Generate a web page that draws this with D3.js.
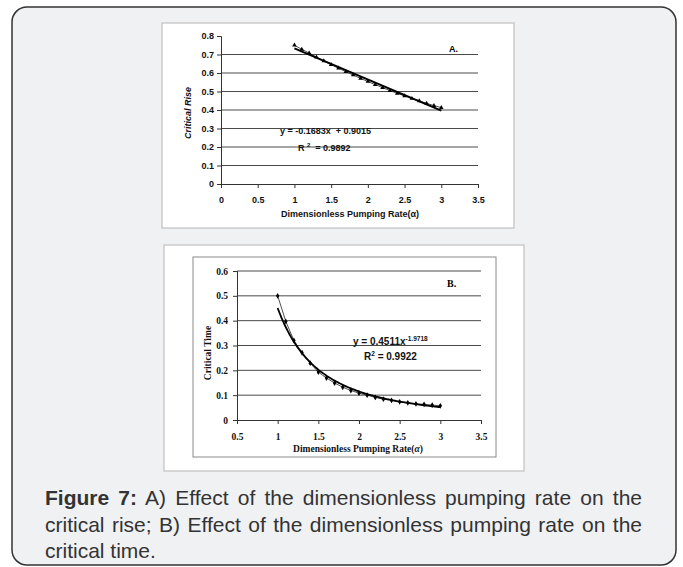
<!DOCTYPE html>
<html>
<head>
<meta charset="utf-8">
<script src="https://cdn.jsdelivr.net/npm/d3@7"></script>
<style>
  body { margin: 0; background: #fff; }
  #wrap { position: relative; width: 683px; height: 567px; }
  #caption {
    position: absolute; left: 45px; top: 485px; width: 597px;
    font-family: "Liberation Sans", Arial, sans-serif; font-size: 21px;
    line-height: 26.5px; color: #333; text-align: justify;
  }
</style>
</head>
<body>
<div id="wrap">
  <svg id="chart" width="683" height="567"></svg>
  <div id="caption"><b>Figure 7:</b> A) Effect of the dimensionless pumping rate on the critical rise; B) Effect of the dimensionless pumping rate on the critical time.</div>
</div>
<script>
// data
var alpha = [1.0, 1.1, 1.2, 1.3, 1.4, 1.5, 1.6, 1.7, 1.8, 1.9, 2.0, 2.1, 2.2, 2.3, 2.4, 2.5, 2.6, 2.7, 2.8, 2.9, 3.0]
var criticalRise = [0.750, 0.728, 0.708, 0.686, 0.665, 0.645, 0.626, 0.607, 0.589, 0.571, 0.554, 0.537, 0.521, 0.505, 0.490, 0.476, 0.462, 0.449, 0.436, 0.424, 0.413]
var criticalTime = [0.500, 0.397, 0.320, 0.271, 0.229, 0.193, 0.169, 0.149, 0.132, 0.119, 0.108, 0.100, 0.091, 0.084, 0.079, 0.073, 0.069, 0.065, 0.063, 0.060, 0.057]
var xTicksA = [0, 0.5, 1, 1.5, 2, 2.5, 3, 3.5]
var yTicksA = [0, 0.1, 0.2, 0.3, 0.4, 0.5, 0.6, 0.7, 0.8]
var xTicksB = [0.5, 1, 1.5, 2, 2.5, 3, 3.5]
var yTicksB = [0, 0.1, 0.2, 0.3, 0.4, 0.5, 0.6]
// trendline coefficients printed on the charts
var linA = {slope: -0.1683, intercept: 0.9015, r2: "0.9892"}
var powB = {coef: 0.4511, exp: -1.9718, r2: "0.9922"}

var sans = "'Liberation Sans', Arial, sans-serif"
var serif = "'Liberation Serif', 'Times New Roman', serif"

var svg = d3.select("#chart")

// figure frame
svg.append("rect")
  .attr("x", 12).attr("y", 7).attr("width", 664).attr("height", 558)
  .attr("rx", 15)
  .attr("fill", "#f0f1f3")
  .attr("stroke", "#333")
  .attr("stroke-width", 1.5)

svg.append("rect")
  .attr("x", 162).attr("y", 23).attr("width", 352).attr("height", 205)
  .attr("fill", "#fff").attr("stroke", "#b5b5b5")
svg.append("rect")
  .attr("x", 164).attr("y", 245).attr("width", 360).attr("height", 226)
  .attr("fill", "#fff").attr("stroke", "#b5b5b5")
svg.append("rect")
  .attr("x", 193).attr("y", 257).attr("width", 303).attr("height", 200)
  .attr("fill", "none").attr("stroke", "#8a8a8a")

// ---------- Panel A ----------
var xA = d3.scaleLinear().domain([0, 3.5]).range([221, 478])
var yA = d3.scaleLinear().domain([0, 0.8]).range([184, 36])
var gA = svg.append("g")

gA.selectAll("line.grid")
  .data(yTicksA.filter(function(d) { return d > 0 && d < 0.8 }))
  .enter().append("line")
  .attr("class", "grid")
  .attr("x1", xA(0)).attr("x2", xA(3.5))
  .attr("y1", function(d) { return yA(d) }).attr("y2", function(d) { return yA(d) })
  .attr("stroke", "#4a4a4a").attr("stroke-width", 1)

var axA = gA.append("g")
  .attr("transform", "translate(0," + yA(0) + ")")
  .call(d3.axisBottom(xA).tickValues(xTicksA).tickSize(4).tickPadding(9).tickFormat(function(d) { return String(d) }))
var ayA = gA.append("g")
  .attr("transform", "translate(" + xA(0) + ",0)")
  .call(d3.axisLeft(yA).tickValues(yTicksA).tickSize(4).tickPadding(3).tickFormat(function(d) { return String(d) }))
;[axA, ayA].forEach(function(a) {
  a.select(".domain").attr("stroke", "#333")
  a.selectAll(".tick line").attr("stroke", "#333")
  a.selectAll("text").attr("font-family", sans).attr("font-size", 9).attr("font-weight", "bold").attr("fill", "#111")
})

var lineA = d3.line()
  .x(function(d, i) { return xA(alpha[i]) })
  .y(function(d) { return yA(d) })
gA.append("path")
  .datum(criticalRise)
  .attr("d", lineA)
  .attr("fill", "none").attr("stroke", "#222").attr("stroke-width", 0.8)

gA.append("path")
  .datum([1, 3])
  .attr("d", d3.line()
    .x(function(d) { return xA(d) })
    .y(function(d) { return yA(linA.slope * d + linA.intercept) }))
  .attr("fill", "none").attr("stroke", "#000").attr("stroke-width", 2)

gA.selectAll("path.tri")
  .data(criticalRise)
  .enter().append("path")
  .attr("class", "tri")
  .attr("d", d3.symbol().type(d3.symbolTriangle).size(9))
  .attr("transform", function(d, i) { return "translate(" + xA(alpha[i]) + "," + yA(d) + ")" })
  .attr("fill", "#000")

var eqA = gA.append("text")
  .attr("x", 280).attr("y", 134)
  .attr("font-family", sans).attr("font-size", 9).attr("font-weight", "bold").attr("fill", "#111")
  .attr("xml:space", "preserve")
  .text("y = " + linA.slope + "x  + " + linA.intercept)
var r2A = gA.append("text")
  .attr("x", 298).attr("y", 151)
  .attr("font-family", sans).attr("font-size", 9).attr("font-weight", "bold").attr("fill", "#111")
  .attr("xml:space", "preserve")
r2A.append("tspan").text("R ")
r2A.append("tspan").attr("font-size", 6).attr("dy", -4).text("2")
r2A.append("tspan").attr("dy", 4).text("  = " + linA.r2)

gA.append("text")
  .attr("x", 449).attr("y", 52)
  .attr("font-family", sans).attr("font-size", 9).attr("font-weight", "bold")
  .text("A.")

gA.append("text")
  .attr("x", 350).attr("y", 217)
  .attr("text-anchor", "middle")
  .attr("font-family", sans).attr("font-size", 9).attr("font-weight", "bold").attr("fill", "#111")
  .text("Dimensionless Pumping Rate(α)")
gA.append("text")
  .attr("transform", "translate(191,113) rotate(-90)")
  .attr("text-anchor", "middle")
  .attr("font-family", sans).attr("font-size", 9).attr("font-weight", "bold").attr("font-style", "italic").attr("fill", "#111")
  .text("Critical Rise")

// ---------- Panel B ----------
var xB = d3.scaleLinear().domain([0.5, 3.5]).range([237, 481])
var yB = d3.scaleLinear().domain([0, 0.6]).range([420, 271])
var gB = svg.append("g")

gB.selectAll("line.grid")
  .data(yTicksB.filter(function(d) { return d > 0 }))
  .enter().append("line")
  .attr("class", "grid")
  .attr("x1", xB(0.5)).attr("x2", xB(3.5))
  .attr("y1", function(d) { return yB(d) }).attr("y2", function(d) { return yB(d) })
  .attr("stroke", "#4a4a4a").attr("stroke-width", 1)

var axB = gB.append("g")
  .attr("transform", "translate(0," + yB(0) + ")")
  .call(d3.axisBottom(xB).tickValues(xTicksB).tickSize(4).tickPadding(9).tickFormat(function(d) { return String(d) }))
var ayB = gB.append("g")
  .attr("transform", "translate(" + xB(0.5) + ",0)")
  .call(d3.axisLeft(yB).tickValues(yTicksB).tickSize(4).tickPadding(5).tickFormat(function(d) { return String(d) }))
;[axB, ayB].forEach(function(a) {
  a.select(".domain").attr("stroke", "#333")
  a.selectAll(".tick line").attr("stroke", "#333")
  a.selectAll("text").attr("font-family", serif).attr("font-size", 9.5).attr("font-weight", "bold").attr("fill", "#111")
})

var lineB = d3.line()
  .x(function(d, i) { return xB(alpha[i]) })
  .y(function(d) { return yB(d) })
gB.append("path")
  .datum(criticalTime)
  .attr("d", lineB)
  .attr("fill", "none").attr("stroke", "#222").attr("stroke-width", 0.8)

var fitX = d3.range(1, 3.001, 0.02)
gB.append("path")
  .datum(fitX)
  .attr("d", d3.line()
    .x(function(d) { return xB(d) })
    .y(function(d) { return yB(powB.coef * Math.pow(d, powB.exp)) })
    .curve(d3.curveMonotoneX))
  .attr("fill", "none").attr("stroke", "#000").attr("stroke-width", 1.8)

gB.selectAll("path.dia")
  .data(criticalTime)
  .enter().append("path")
  .attr("class", "dia")
  .attr("d", d3.symbol().type(d3.symbolDiamond).size(10))
  .attr("transform", function(d, i) { return "translate(" + xB(alpha[i]) + "," + yB(d) + ")" })
  .attr("fill", "#000")

var eqB = gB.append("text")
  .attr("x", 353).attr("y", 345)
  .attr("font-family", sans).attr("font-size", 10).attr("font-weight", "bold").attr("fill", "#111")
eqB.append("tspan").text("y = " + powB.coef + "x")
eqB.append("tspan").attr("font-size", 6.5).attr("dy", -4).text(powB.exp)
var r2B = gB.append("text")
  .attr("x", 364).attr("y", 360)
  .attr("font-family", sans).attr("font-size", 10).attr("font-weight", "bold").attr("fill", "#111")
r2B.append("tspan").text("R")
r2B.append("tspan").attr("font-size", 6.5).attr("dy", -4).text("2")
r2B.append("tspan").attr("dy", 4).text(" = " + powB.r2)

gB.append("text")
  .attr("x", 447).attr("y", 287)
  .attr("font-family", serif).attr("font-size", 10).attr("font-weight", "bold")
  .text("B.")

var xlabB = gB.append("text")
  .attr("x", 358).attr("y", 452)
  .attr("text-anchor", "middle")
  .attr("font-family", serif).attr("font-size", 9.5).attr("font-weight", "bold").attr("fill", "#111")
xlabB.append("tspan").text("Dimensionless Pumping Rate(")
xlabB.append("tspan").attr("font-style", "italic").text("α")
xlabB.append("tspan").text(")")
gB.append("text")
  .attr("transform", "translate(211,353) rotate(-90)")
  .attr("text-anchor", "middle")
  .attr("font-family", serif).attr("font-size", 9.5).attr("font-weight", "bold").attr("fill", "#111")
  .text("Critical Time")
</script>
</body>
</html>
